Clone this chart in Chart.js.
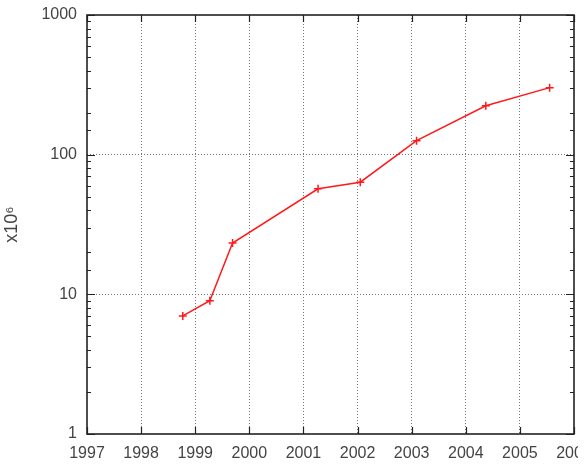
<!DOCTYPE html>
<html>
<head>
<meta charset="utf-8">
<script src="https://cdn.jsdelivr.net/npm/chart.js@4"></script>
<style>
  body { margin: 0; background: #fff; overflow: hidden; }
  #wrap { width: 578px; height: 471px; overflow: hidden; }
</style>
</head>
<body>
<div id="wrap"><canvas id="growthChart" width="620" height="471"></canvas></div>
<script>
// DATA
const years = [1998.77, 1999.27, 1999.69, 2001.27, 2002.05, 2003.09, 2004.37, 2005.55];
const values = [7, 9, 23.3, 57, 63.5, 126, 224, 302];
const yearTicks = [1997, 1998, 1999, 2000, 2001, 2002, 2003, 2004, 2005, 2006];
const decadeTicks = [1, 10, 100, 1000];

const isDecade = v => Math.abs(Math.log10(v) - Math.round(Math.log10(v))) < 1e-9;
const labelFont = { family: "Liberation Sans, Arial, sans-serif", size: 16, lineHeight: 1 };

// FRAME + INWARD TICKS (gnuplot style)
const framePlugin = {
  id: "frame",
  afterDraw(chart) {
    const { ctx, chartArea: a, scales } = chart;
    ctx.save();
    ctx.strokeStyle = "#222";
    ctx.lineWidth = 1.2;
    ctx.beginPath();
    scales.x.ticks.forEach(t => {
      const px = Math.round(scales.x.getPixelForValue(t.value)) + 0.5;
      ctx.moveTo(px, a.bottom); ctx.lineTo(px, a.bottom - 7);
      ctx.moveTo(px, a.top); ctx.lineTo(px, a.top + 7);
    });
    scales.y.ticks.forEach(t => {
      const py = Math.round(scales.y.getPixelForValue(t.value)) + 0.5;
      const len = isDecade(t.value) ? 8 : 4;
      ctx.moveTo(a.left, py); ctx.lineTo(a.left + len, py);
      ctx.moveTo(a.right, py); ctx.lineTo(a.right - len, py);
    });
    ctx.stroke();
    ctx.lineWidth = 1.6;
    ctx.strokeRect(a.left, a.top, a.right - a.left, a.bottom - a.top);
    ctx.restore();
  }
};

new Chart(document.getElementById("growthChart"), {
  type: "line",
  data: {
    datasets: [{
      data: years.map((x, i) => ({ x, y: values[i] })),
      borderColor: "#ff1a1a",
      backgroundColor: "#ff1a1a",
      borderWidth: 1.5,
      pointStyle: "cross",
      pointRadius: 4,
      pointBorderWidth: 1.5,
      tension: 0
    }]
  },
  options: {
    responsive: false,
    animation: false,
    layout: { padding: { left: 0, top: 15, right: 46, bottom: 7 } },
    plugins: { legend: { display: false }, tooltip: { enabled: false } },
    scales: {
      x: {
        type: "linear",
        min: yearTicks[0],
        max: yearTicks[yearTicks.length - 1],
        afterBuildTicks: s => { s.ticks = yearTicks.map(v => ({ value: v })); },
        afterFit: s => { s.height = 30; },
        ticks: { callback: v => String(v), color: "#444", font: labelFont, padding: 12, maxRotation: 0, autoSkip: false },
        grid: {
          drawTicks: false,
          color: c => (c.tick && (c.tick.value === 1997 || c.tick.value === 2006)) ? "rgba(0,0,0,0)" : "#777",
          lineWidth: 1
        },
        border: { display: false, dash: [1, 2] }
      },
      y: {
        type: "logarithmic",
        min: decadeTicks[0],
        max: decadeTicks[decadeTicks.length - 1],
        afterFit: s => { s.width = 87; s.paddingTop = 0; s.paddingBottom = 0; },
        ticks: {
          autoSkip: false,
          callback: v => decadeTicks.includes(v) ? String(v) : "",
          color: "#444",
          font: labelFont,
          padding: 10
        },
        grid: {
          drawTicks: false,
          color: c => (c.tick && (c.tick.value === 10 || c.tick.value === 100)) ? "#777" : "rgba(0,0,0,0)",
          lineWidth: 1
        },
        border: { display: false, dash: [1, 2] },
        title: { display: true, text: "x10⁶", color: "#444", font: { family: "Liberation Sans, Arial, sans-serif", size: 18 }, padding: { top: 1, bottom: 0 } }
      }
    }
  },
  plugins: [framePlugin]
});
</script>
</body>
</html>
